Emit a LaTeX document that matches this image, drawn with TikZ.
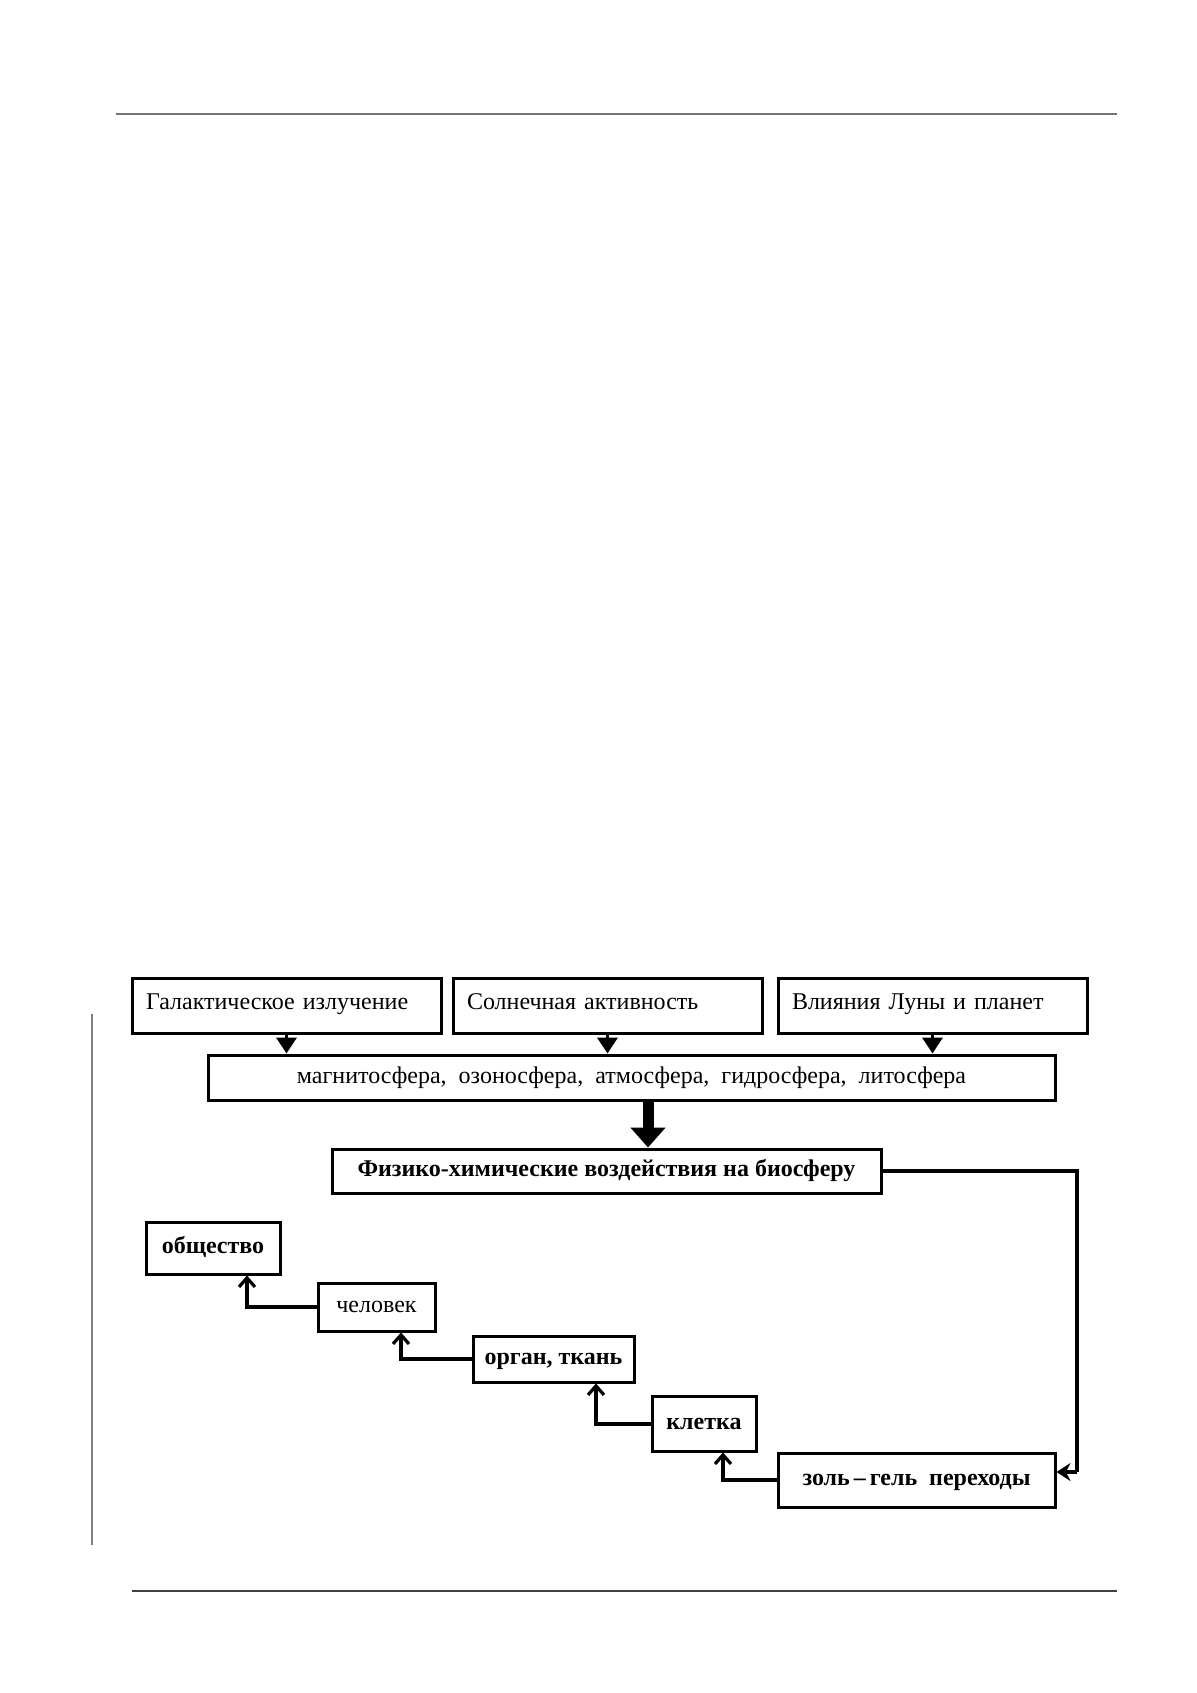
\documentclass[tikz,border=0pt]{standalone}
\usepackage{fontspec}
\setmainfont{Liberation Serif}
\usetikzlibrary{arrows.meta}
\begin{document}
\begin{tikzpicture}[x=0.5pt,y=-0.5pt,
  box/.style={draw,line width=1.5pt,inner sep=0pt,text height=8.5pt,text depth=3pt,font=\fontsize{12pt}{14pt}\selectfont},
  lbox/.style={box,align=left,inner xsep=7pt,text depth=5pt},
  bbox/.style={box,font=\fontsize{12pt}{14pt}\selectfont\bfseries},
  downarr/.style={line width=1.8pt,-{Triangle[length=8pt,width=10pt]}},
  bigarr/.style={line width=5.5pt,-{Triangle[length=10pt,width=17pt]}},
  uparr/.style={line width=2pt,-{Straight Barb[length=4.5pt,width=8pt,line width=1.6pt]}},
  sidearr/.style={line width=2pt,-{Stealth[length=7pt,width=9pt]}}]
\useasboundingbox (0,0) rectangle (1197,1693);
% page rules
\draw[gray!90!black,line width=0.9pt] (116,114) -- (1117,114);
\draw[black!75,line width=1.2pt] (132,1591) -- (1117,1591);
\draw[gray,line width=0.7pt] (92,1014) -- (92,1545);
% top boxes
\node[lbox,text width=140.5pt,minimum height=27.5pt] (g1) at (286.5,1005.5) {Галактическое излучение};
\node[lbox,text width=140.5pt,minimum height=27.5pt] (g2) at (607.5,1005.5) {Солнечная активность};
\node[lbox,text width=140.5pt,minimum height=27.5pt] (g3) at (932.5,1005.5) {Влияния Луны и планет};
\node[box,minimum width=423.5pt,minimum height=22.5pt] (m) at (631.5,1077.5) {магнитосфера,\ \ озоносфера,\ \ атмосфера,\ \ гидросфера,\ \ литосфера};
\node[bbox,minimum width=274.5pt,minimum height=22pt] (f) at (606.5,1171) {Физико-химические воздействия на биосферу};
% chain boxes
\node[bbox,minimum width=67pt,minimum height=26pt] (o) at (213,1248) {общество};
\node[box,minimum width=58.5pt,minimum height=24pt] (ch) at (376.5,1307) {человек};
\node[bbox,minimum width=80.5pt,minimum height=23pt] (org) at (553.5,1359) {орган, ткань};
\node[bbox,minimum width=52pt,minimum height=27.5pt] (k) at (704,1423.5) {клетка};
\node[bbox,minimum width=138.5pt,minimum height=27pt] (z) at (916.5,1480) {золь\,–\,гель\ \ переходы};
% helper coordinates
\coordinate (ax) at (648,0);
\coordinate (c1) at (247,0);
\coordinate (c2) at (401,0);
\coordinate (c3) at (596,0);
\coordinate (c4) at (723,0);
\coordinate (rx) at (1077,0);
\coordinate (ry) at (0,1472);
% arrows
\draw[downarr] (g1.south) -- (g1.south |- m.north);
\draw[downarr] (g2.south) -- (g2.south |- m.north);
\draw[downarr] (g3.south) -- (g3.south |- m.north);
\draw[bigarr] (m.south -| ax) -- (f.north -| ax);
\draw[line width=2pt] (f.east) -| (rx |- ry);
\draw[sidearr] (rx |- ry) -- (z.east |- ry);
\draw[uparr] (ch.west) -| (o.south -| c1);
\draw[uparr] (org.west) -| (ch.south -| c2);
\draw[uparr] (k.west) -| (org.south -| c3);
\draw[uparr] (z.west) -| (k.south -| c4);
\end{tikzpicture}
\end{document}
